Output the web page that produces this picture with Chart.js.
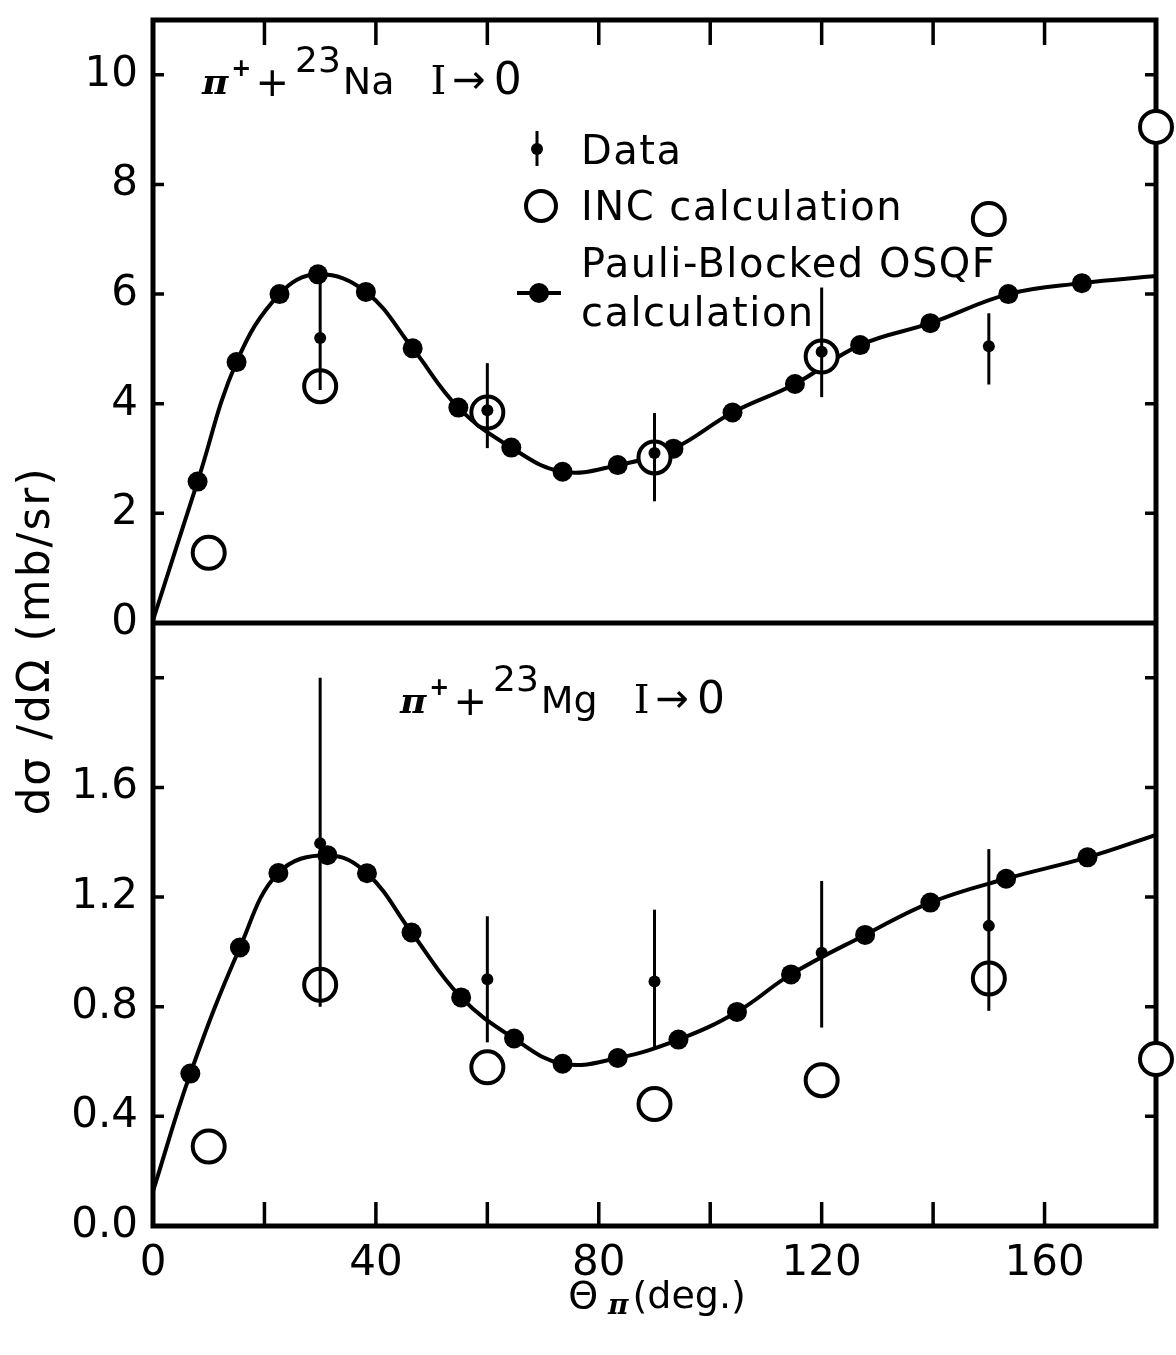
<!DOCTYPE html>
<html>
<head>
<meta charset="utf-8">
<title>pi+ 23Na / 23Mg  I->0</title>
<script src="https://cdn.jsdelivr.net/npm/chart.js@4.4.1/dist/chart.umd.min.js"></script>
<style>
    html, body { margin: 0; padding: 0; background: #fff; }
    #grafica { display: block; }
</style>
</head>
<body>
<canvas id="grafica" width="1176" height="1355"></canvas>
<script>
// ========================================================
// DATOS
// ========================================================
const angulosDatos = [30, 60, 90, 120, 150];
const angulosINC = [10, 30, 60, 90, 120, 150, 180];
const angulosBordes = [0, 180];

// pi+ + 23Na  I -> 0
const naOsqfAng = [8, 15, 22.7, 29.6, 38.2, 46.6, 54.8, 64.3, 73.5, 83.4, 93.4, 104, 115.2, 126.9, 139.5, 153.5, 166.7];
const naOsqf = [2.58, 4.76, 6.0, 6.36, 6.04, 5.01, 3.93, 3.2, 2.76, 2.88, 3.18, 3.84, 4.36, 5.07, 5.47, 6.0, 6.2];
const naCurvaBordes = [0.05, 6.33];
const naINC = [1.28, 4.32, 3.84, 3.02, 4.86, 7.37, 9.05];
const naDatos = [5.2, 3.88, 3.1, 4.95, 5.05];
const naDatosMin = [4.25, 3.19, 2.22, 4.12, 4.35];
const naDatosMax = [6.3, 4.74, 3.83, 6.12, 5.65];

// pi+ + 23Mg  I -> 0
const mgOsqfAng = [6.7, 15.6, 22.5, 31.3, 38.4, 46.4, 55.3, 64.8, 73.5, 83.4, 94.3, 104.8, 114.5, 127.8, 139.5, 153.1, 167.7];
const mgOsqf = [0.556, 1.016, 1.288, 1.353, 1.287, 1.071, 0.834, 0.684, 0.592, 0.613, 0.68, 0.781, 0.918, 1.062, 1.18, 1.267, 1.345];
const mgCurvaBordes = [0.127, 1.427];
const mgINC = [0.29, 0.88, 0.579, 0.445, 0.532, 0.903, 0.609];
const mgDatos = [1.396, 0.9, 0.892, 0.997, 1.095];
const mgDatosMin = [0.8, 0.67, 0.647, 0.724, 0.785];
const mgDatosMax = [2.0, 1.13, 1.154, 1.259, 1.375];

// Etiquetas de los ejes
const etiquetasX = [0, 40, 80, 120, 160];
const etiquetasNa = [0, 2, 4, 6, 8, 10];
const etiquetasMg = [0, 0.4, 0.8, 1.2, 1.6];

const FUENTE = 'DejaVu Sans';
Chart.defaults.font.family = FUENTE;
Chart.defaults.color = '#000';

function puntos(xs, ys) {
    return xs.map((x, i) => ({ x: x, y: ys[i] }));
}

function curva(xs, ys, bordes) {
    return [{ x: angulosBordes[0], y: bordes[0] }]
        .concat(puntos(xs, ys))
        .concat([{ x: angulosBordes[1], y: bordes[1] }]);
}

function enLista(lista, v) {
    return lista.some(e => Math.abs(e - v) < 1e-6);
}

// Dibuja un texto compuesto (superindices, subindices) de izquierda a derecha
function dibujarTramos(ctx, x, y, tramos) {
    ctx.save();
    ctx.textBaseline = 'alphabetic';
    ctx.textAlign = 'left';
    ctx.fillStyle = '#000';
    let cx = x;
    tramos.forEach(t => {
        cx += t.gap || 0;
        ctx.font = t.f;
        ctx.fillText(t.t, cx, y + (t.dy || 0));
        cx += ctx.measureText(t.t).width;
    });
    ctx.restore();
}

// ========================================================
// PLUGIN: marco, marcas, barras de error, leyenda y textos
// ========================================================
const marcoPlugin = {
    id: 'marco',
    beforeDatasetsDraw(chart) {
        const ctx = chart.ctx;
        const a = chart.chartArea;
        const sx = chart.scales.x, sNa = chart.scales.yTop, sMg = chart.scales.yBot;
        ctx.save();
        ctx.strokeStyle = '#000';
        ctx.lineCap = 'butt';

        // marcas del eje x (arriba y abajo, hacia dentro)
        ctx.lineWidth = 3.5;
        sx.ticks.forEach(t => {
            if (t.value <= sx.min || t.value >= sx.max) return;
            const px = sx.getPixelForValue(t.value);
            ctx.beginPath();
            ctx.moveTo(px, a.top); ctx.lineTo(px, a.top + 25);
            ctx.moveTo(px, a.bottom); ctx.lineTo(px, a.bottom - 24);
            ctx.stroke();
        });
        // marcas de los ejes y (izquierda y derecha)
        [sNa, sMg].forEach(s => {
            s.ticks.forEach(t => {
                if (t.value <= s.min) return;
                const py = s.getPixelForValue(t.value);
                ctx.beginPath();
                ctx.moveTo(a.left, py); ctx.lineTo(a.left + 11, py);
                ctx.moveTo(a.right, py); ctx.lineTo(a.right - 11, py);
                ctx.stroke();
            });
        });

        // marco y division entre paneles
        ctx.lineWidth = 5;
        ctx.strokeRect(a.left, a.top, a.right - a.left, a.bottom - a.top);
        const yDiv = sNa.getPixelForValue(0);
        ctx.beginPath();
        ctx.moveTo(a.left, yDiv); ctx.lineTo(a.right, yDiv);
        ctx.stroke();
        ctx.restore();
    },
    beforeDatasetDraw(chart, args) {
        const ds = chart.data.datasets[args.index];
        if (!ds.errMin) return;
        const ctx = chart.ctx;
        const sx = chart.scales.x, sy = chart.scales[ds.yAxisID];
        ctx.save();
        ctx.strokeStyle = '#000';
        ctx.lineWidth = 3;
        ds.data.forEach((p, i) => {
            const px = sx.getPixelForValue(p.x);
            ctx.beginPath();
            ctx.moveTo(px, sy.getPixelForValue(ds.errMin[i]));
            ctx.lineTo(px, sy.getPixelForValue(ds.errMax[i]));
            ctx.stroke();
        });
        ctx.restore();
    },
    afterDraw(chart) {
        const ctx = chart.ctx;
        const a = chart.chartArea;
        const yDiv = chart.scales.yTop.getPixelForValue(0);

        // titulos de los paneles
        const titulo = (x, y, nucleo) => dibujarTramos(ctx, x, y, [
            { t: 'π', f: 'italic bold 36px DejaVu Serif' },
            { t: '+', f: 'bold 24px ' + FUENTE, dy: -18, gap: 3 },
            { t: '+', f: '40px ' + FUENTE, dy: 2, gap: 4 },
            { t: '23', f: '36px ' + FUENTE, dy: -22, gap: 6 },
            { t: nucleo, f: '38px ' + FUENTE, gap: 2 },
            { t: 'I', f: '40px DejaVu Serif', gap: 36 },
            { t: '→', f: '40px ' + FUENTE, dy: -1, gap: 6 },
            { t: '0', f: '44px ' + FUENTE, gap: 8 }
        ]);
        titulo(a.left + 49, a.top + 74, 'Na');
        titulo(a.left + 247, yDiv + 90, 'Mg');

        // leyenda
        ctx.save();
        ctx.strokeStyle = '#000';
        ctx.fillStyle = '#000';
        const lx = a.left + 384;
        // Data
        ctx.lineWidth = 3;
        ctx.beginPath();
        ctx.moveTo(lx, a.top + 111); ctx.lineTo(lx, a.top + 146);
        ctx.stroke();
        ctx.beginPath(); ctx.arc(lx, a.top + 129, 6, 0, Math.PI * 2); ctx.fill();
        // INC calculation
        ctx.lineWidth = 4;
        ctx.beginPath(); ctx.arc(lx + 4, a.top + 186, 15, 0, Math.PI * 2); ctx.stroke();
        // Pauli-Blocked OSQF calculation
        ctx.beginPath();
        ctx.moveTo(lx - 20, a.top + 273); ctx.lineTo(lx + 24, a.top + 273);
        ctx.stroke();
        ctx.beginPath(); ctx.arc(lx + 2, a.top + 273, 10, 0, Math.PI * 2); ctx.fill();

        ctx.font = '40px ' + FUENTE;
        ctx.letterSpacing = '1.5px';
        ctx.textBaseline = 'alphabetic';
        ctx.textAlign = 'left';
        const tx = a.left + 428;
        ctx.fillText('Data', tx, a.top + 144);
        ctx.fillText('INC calculation', tx, a.top + 200);
        ctx.fillText('Pauli-Blocked OSQF', tx, a.top + 257);
        ctx.fillText('calculation', tx, a.top + 306);
        ctx.restore();

        // titulo eje y
        ctx.save();
        ctx.translate(38, yDiv + 18);
        ctx.rotate(-Math.PI / 2);
        ctx.font = '44px ' + FUENTE;
        ctx.letterSpacing = '2px';
        ctx.textAlign = 'center';
        ctx.textBaseline = 'middle';
        ctx.fillStyle = '#000';
        ctx.fillText('dσ /dΩ (mb/sr)', 0, 0);
        ctx.restore();

        // titulo eje x
        dibujarTramos(ctx, chart.scales.x.getPixelForValue(74.5), a.bottom + 82, [
            { t: 'Θ', f: '38px ' + FUENTE },
            { t: 'π', f: 'italic bold 28px DejaVu Serif', dy: 6, gap: 10 },
            { t: '(deg.)', f: '38px ' + FUENTE, gap: 4 }
        ]);
    }
};

// ========================================================
// CONFIGURACION DE CHART.JS
// ========================================================
const negro = '#000';

function ejeY(min, max, paso, etiquetas, formato) {
    return {
        type: 'linear', axis: 'y', position: 'left', stack: 'paneles', stackWeight: 1,
        min: min, max: max,
        grid: { display: false, drawTicks: false },
        border: { display: false },
        ticks: {
            stepSize: paso, includeBounds: false, autoSkip: false, padding: 15,
            font: { size: 42 }, color: negro,
            callback: v => enLista(etiquetas, v) ? formato(v) : ''
        },
        afterFit: s => { s.width = 153; s.paddingTop = 0; s.paddingBottom = 0; }
    };
}

const ctx = document.getElementById('grafica').getContext('2d');
new Chart(ctx, {
    type: 'scatter',
    data: {
        datasets: [
            {
                label: 'Data', yAxisID: 'yTop', data: puntos(angulosDatos, naDatos),
                errMin: naDatosMin, errMax: naDatosMax,
                pointRadius: 6, pointBackgroundColor: negro, pointBorderWidth: 0, clip: false
            },
            {
                label: 'Data', yAxisID: 'yBot', data: puntos(angulosDatos, mgDatos),
                errMin: mgDatosMin, errMax: mgDatosMax,
                pointRadius: 6, pointBackgroundColor: negro, pointBorderWidth: 0, clip: false
            },
            {
                label: 'INC calculation', yAxisID: 'yTop', data: puntos(angulosINC, naINC),
                pointRadius: 16, pointBackgroundColor: '#fff', pointBorderColor: negro, pointBorderWidth: 4, clip: false
            },
            {
                label: 'INC calculation', yAxisID: 'yBot', data: puntos(angulosINC, mgINC),
                pointRadius: 16, pointBackgroundColor: '#fff', pointBorderColor: negro, pointBorderWidth: 4, clip: false
            },
            {
                label: 'Pauli-Blocked OSQF calculation', yAxisID: 'yTop', data: puntos(naOsqfAng, naOsqf),
                pointRadius: 10, pointBackgroundColor: negro, pointBorderWidth: 0, clip: false
            },
            {
                label: 'Pauli-Blocked OSQF calculation', yAxisID: 'yBot', data: puntos(mgOsqfAng, mgOsqf),
                pointRadius: 10, pointBackgroundColor: negro, pointBorderWidth: 0, clip: false
            },
            {
                label: 'curva Na', yAxisID: 'yTop', data: curva(naOsqfAng, naOsqf, naCurvaBordes),
                showLine: true, pointRadius: 0, borderColor: negro, borderWidth: 4, tension: 0.4
            },
            {
                label: 'curva Mg', yAxisID: 'yBot', data: curva(mgOsqfAng, mgOsqf, mgCurvaBordes),
                showLine: true, pointRadius: 0, borderColor: negro, borderWidth: 4, tension: 0.4
            }
        ]
    },
    options: {
        responsive: false,
        animation: false,
        events: [],
        layout: { padding: { top: 14, right: 14, left: 0, bottom: 0 } },
        plugins: { legend: { display: false }, tooltip: { enabled: false } },
        scales: {
            x: {
                type: 'linear', position: 'bottom', min: 0, max: 180,
                grid: { display: false, drawTicks: false },
                border: { display: false },
                ticks: {
                    stepSize: 20, includeBounds: false, autoSkip: false, maxRotation: 0, padding: 13,
                    font: { size: 42 }, color: negro,
                    callback: v => enLista(etiquetasX, v) ? String(v) : ''
                },
                afterFit: s => { s.height = 129; s.paddingLeft = 0; s.paddingRight = 0; }
            },
            // el primer eje de la pila queda abajo
            yBot: ejeY(0, 2.2, 0.4, etiquetasMg, v => v.toFixed(1)),
            yTop: ejeY(0, 11, 2, etiquetasNa, v => String(v))
        }
    },
    plugins: [marcoPlugin]
});
</script>
</body>
</html>
